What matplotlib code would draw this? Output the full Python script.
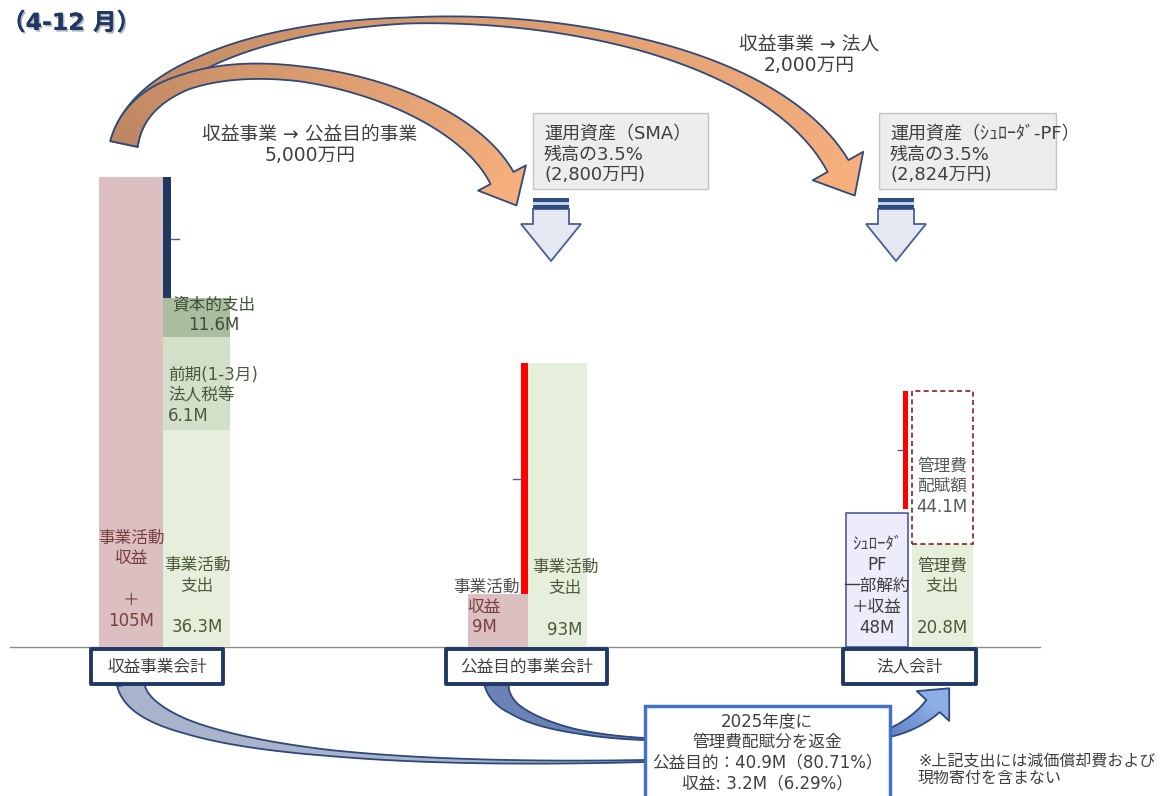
import numpy as np
import matplotlib.pyplot as plt
from matplotlib.patches import Polygon, Rectangle
from matplotlib.colors import to_rgb
import matplotlib.patheffects as pe

# DejaVu for latin/digits (wide, like the source font), Noto CJK for Japanese
plt.rcParams['font.family'] = ['DejaVu Sans', 'Noto Sans CJK JP']

# ---- data (bar heights are as drawn; the source diagram is not to scale) ----
accounts = ["収益事業会計", "公益目的事業会計", "法人会計"]
income_labels = ["事業活動\n収益\n\n＋\n105M", "収益\n9M", "ｼｭﾛｰﾀﾞ\nPF\n一部解約\n＋収益\n48M"]
income_heights = [470, 53, 134]
gap_heights = [121, 231, 118]          # navy / red bars on top of the expenses
left_exp_labels = ["事業活動\n支出\n\n36.3M", "前期(1-3月)\n法人税等\n6.1M", "資本的支出\n11.6M"]
left_exp_heights = [217, 93, 39]
mid_exp_labels = ["事業活動\n支出\n\n93M"]
mid_exp_heights = [284]
corp_exp_labels = ["管理費\n支出\n\n20.8M", "管理費\n配賦額\n44.1M"]
corp_exp_heights = [103, 153]
transfer_labels = ["収益事業 → 公益目的事業\n5,000万円", "収益事業 → 法人\n2,000万円"]
asset_labels = ["運用資産（SMA）\n残高の3.5%\n(2,800万円)", "運用資産（ｼｭﾛｰﾀﾞ-PF）\n残高の3.5%\n(2,824万円)"]
refund_lines = ["2025年度に", "管理費配賦分を返金", "公益目的：40.9M（80.71%）", "収益: 3.2M（6.29%）"]
note = "※上記支出には減価償却費および\n現物寄付を含まない"
title = "（4-12 月）"

BASE = 647  # picture row of the baseline


def Y(py):
    return BASE - py


fig = plt.figure(figsize=(11.66, 7.96), dpi=100)
ax = fig.add_axes([0, 0, 1, 1])
ax.set_xlim(0, 1166)
ax.set_ylim(Y(796), Y(0))
ax.axis('off')

TXT = '#404040'
GRN_TXT = '#4b5a3b'
RED_TXT = '#7a4040'
NAVY = '#1f3864'


def curved_arrow(pts4, wt, ww, c0, c1, head=None, edge='#2e4a7d', z=3, n=90):
    P = np.array(pts4, float)
    P[:, 1] = BASE - P[:, 1]
    t = np.linspace(0, 1, n)
    tt = t[:, None]
    pts = (1-tt)**3*P[0] + 3*(1-tt)**2*tt*P[1] + 3*(1-tt)*tt**2*P[2] + tt**3*P[3]
    der = 3*(1-tt)**2*(P[1]-P[0]) + 6*(1-tt)*tt*(P[2]-P[1]) + 3*tt**2*(P[3]-P[2])
    u = der / np.linalg.norm(der, axis=1)[:, None]
    nrm = np.column_stack([-u[:, 1], u[:, 0]])
    w = np.interp(t, wt, ww)[:, None] / 2
    left = pts + nrm * w
    right = pts - nrm * w
    c0, c1 = np.array(to_rgb(c0)), np.array(to_rgb(c1))
    for i in range(n - 1):
        col = c0 + (c1 - c0) * t[i]
        ax.add_patch(Polygon([left[i], left[i+1], right[i+1], right[i]], closed=True,
                             fc=col, ec=col, lw=0.6, zorder=z))
    outline = list(left)
    if head:
        hw, hl = head
        b = pts[-1]
        tri = [b + nrm[-1]*hw, b + u[-1]*hl, b - nrm[-1]*hw]
        ax.add_patch(Polygon(tri, closed=True, fc=c1, ec=c1, lw=0.6, zorder=z))
        outline += tri
    outline += list(right[::-1])
    ax.add_patch(Polygon(outline, closed=True, fill=False, ec=edge, lw=1.3,
                         joinstyle='round', zorder=z + 0.1))


def block_arrow(cx):
    sh, hh = 18, 30
    ax.add_patch(Polygon([(cx-sh, Y(209)), (cx+sh, Y(209)), (cx+sh, Y(224)), (cx+hh, Y(224)),
                          (cx, Y(261)), (cx-hh, Y(224)), (cx-sh, Y(224))], closed=True,
                         fc='#e4e8f2', ec='#4a5f8f', lw=1.3, zorder=3))
    for top, bot, c in [(198, 202, '#2f4c80'), (202, 205, '#c9d3e8'), (205, 209, '#2f4c80')]:
        ax.add_patch(Rectangle((cx-sh, Y(bot)), 2*sh, bot-top, fc=c, ec='none', zorder=3))


# ---- baseline ----
ax.plot([10, 1040], [0, 0], color='#8c8c8c', lw=1, zorder=1)

# ---- 収益事業会計 ----
ax.bar(131, income_heights[0], width=64, color='#dcbfc0', zorder=2)
bottoms = np.concatenate([[0], np.cumsum(left_exp_heights)[:-1]])
left_cols = ['#e6efdc', '#d4dfca', '#aabd9f']
ax.bar(196.5, left_exp_heights, width=67, bottom=bottoms, color=left_cols, zorder=2)
ax.bar(167, gap_heights[0], width=8, bottom=sum(left_exp_heights), color=NAVY, zorder=2)
ax.plot([171, 179], [Y(239), Y(239)], color='#4a5f8f', lw=1, zorder=2)

ax.text(131, Y(579), income_labels[0], ha='center', va='center', fontsize=12,
        color=RED_TXT, linespacing=1.2, zorder=4)
ax.text(197, Y(596), left_exp_labels[0], ha='center', va='center', fontsize=12,
        color=GRN_TXT, linespacing=1.2, zorder=4)
ax.text(168, Y(395.5), left_exp_labels[1], ha='left', va='center', fontsize=12,
        color=GRN_TXT, linespacing=1.2, zorder=4)
ax.text(214, Y(315), left_exp_labels[2], ha='center', va='center', fontsize=12,
        color='#3f4f35', linespacing=1.2, zorder=4)

# ---- 公益目的事業会計 ----
ax.bar(498, income_heights[1], width=60, color='#dcbfc0', zorder=2)
ax.bar(557.5, mid_exp_heights[0], width=59, color='#e6efdc', zorder=2)
ax.bar(524.5, gap_heights[1], width=7, bottom=income_heights[1], color='#ff0000', zorder=2)
ax.plot([513, 521], [Y(479), Y(479)], color='#4a5f8f', lw=1, zorder=2)
ax.text(486, Y(587), "事業活動", ha='center', va='center', fontsize=12, color='#505050', zorder=4)
ax.text(484, Y(617), income_labels[1], ha='center', va='center', fontsize=12,
        color=RED_TXT, linespacing=1.2, zorder=4)
ax.text(565, Y(598.5), mid_exp_labels[0], ha='center', va='center', fontsize=12,
        color=GRN_TXT, linespacing=1.2, zorder=4)

# ---- 法人会計 ----
ax.bar(877, income_heights[2], width=62, color='#ececfa', edgecolor='#4a5aa0', lw=1.2, zorder=2)
ax.bar(942.5, corp_exp_heights[0], width=61, color='#e6efdc', zorder=2)
ax.bar(942.5, corp_exp_heights[1], width=61, bottom=corp_exp_heights[0], color='white',
       edgecolor='#8b1c1c', lw=1.2, linestyle=(0, (3, 2)), zorder=2)
ax.bar(905.5, gap_heights[2], width=5, bottom=sum(corp_exp_heights) - gap_heights[2],
       color='#ff0000', zorder=2)
ax.plot([898, 903], [Y(450), Y(450)], color='#4a5f8f', lw=1, zorder=2)
ax.text(877, Y(586), income_labels[2], ha='center', va='center', fontsize=12,
        color=TXT, linespacing=1.2, zorder=4)
ax.text(942, Y(596.5), corp_exp_labels[0], ha='center', va='center', fontsize=12,
        color=GRN_TXT, linespacing=1.2, zorder=4)
ax.text(942, Y(486), corp_exp_labels[1], ha='center', va='center', fontsize=12,
        color='#595959', linespacing=1.2, zorder=4)

# ---- account name boxes ----
for name, (x0, x1) in zip(accounts, [(91, 223), (446, 607), (843, 976)]):
    ax.add_patch(Rectangle((x0, Y(684)), x1 - x0, 35, fc='white', ec=NAVY, lw=2.8,
                           joinstyle='round', zorder=5))
    ax.text((x0 + x1) / 2, Y(666.5), name, ha='center', va='center', fontsize=12,
            color=TXT, zorder=6)

# ---- asset boxes + block arrows ----
for lab, (x0, x1), cx in zip(asset_labels, [(533, 708), (879, 1056)], [551, 896]):
    ax.add_patch(Rectangle((x0, Y(189)), x1 - x0, 76, fc='#ededed', ec='#c4c4c4', lw=1, zorder=2))
    ax.text(x0 + 11, Y(154.5), lab, ha='left', va='center', fontsize=13, color=TXT,
            linespacing=1.2, zorder=4)
    block_arrow(cx)

# ---- transfer arrows (top) ----
curved_arrow([(124, 144), (160, -25), (730, -25), (838, 166)],
             [0, 0.2, 0.45, 0.7, 1], [28, 14, 6, 12, 24], '#be8762', '#f5ae7c', head=(29, 34))
curved_arrow([(124, 144), (150, 20), (445, 70), (502, 178)],
             [0, 0.25, 0.5, 1], [28, 16, 15, 26], '#be8762', '#f5ae7c', head=(27, 31), z=3.5)
ax.text(310, Y(145), transfer_labels[0], ha='center', va='center', fontsize=13.5, color=TXT,
        linespacing=1.15, zorder=4)
ax.text(809, Y(55), transfer_labels[1], ha='center', va='center', fontsize=13.5, color=TXT,
        linespacing=1.15, zorder=4)

# ---- refund arrows (bottom) ----
curved_arrow([(131, 684), (140, 740), (330, 768), (644, 761)],
             [0, 0.3, 0.6, 1], [28, 14, 6, 2], '#a9b3cb', '#a9b3cb', z=3)
curved_arrow([(497, 684), (500, 715), (560, 735), (644, 739)],
             [0, 0.3, 0.7, 1], [25, 12, 4, 2], '#6b82b5', '#6b82b5', z=3)
curved_arrow([(889, 733), (905, 728), (922, 718), (933, 706)],
             [0, 1], [8, 18], '#5f7fc0', '#8eaee6', head=(22, 24), z=3)

ax.add_patch(Rectangle((645, Y(800)), 245, 94, fc='white', ec='#4472c4', lw=2.5, zorder=5))
ax.text(767, Y(752), "\n".join(refund_lines), ha='center', va='center', fontsize=12,
        color=TXT, linespacing=1.2, zorder=6)
ax.text(918, Y(770), note, ha='left', va='center', fontsize=11.5, color=TXT,
        linespacing=1.15, zorder=6)

# ---- title fragment ----
ax.text(2, Y(23), title, ha='left', va='center', fontsize=17, fontweight='bold', color=NAVY,
        path_effects=[pe.withSimplePatchShadow(offset=(1.2, -1.2), alpha=0.3), pe.Normal()],
        zorder=6)

fig.savefig('out.png', dpi=100)
